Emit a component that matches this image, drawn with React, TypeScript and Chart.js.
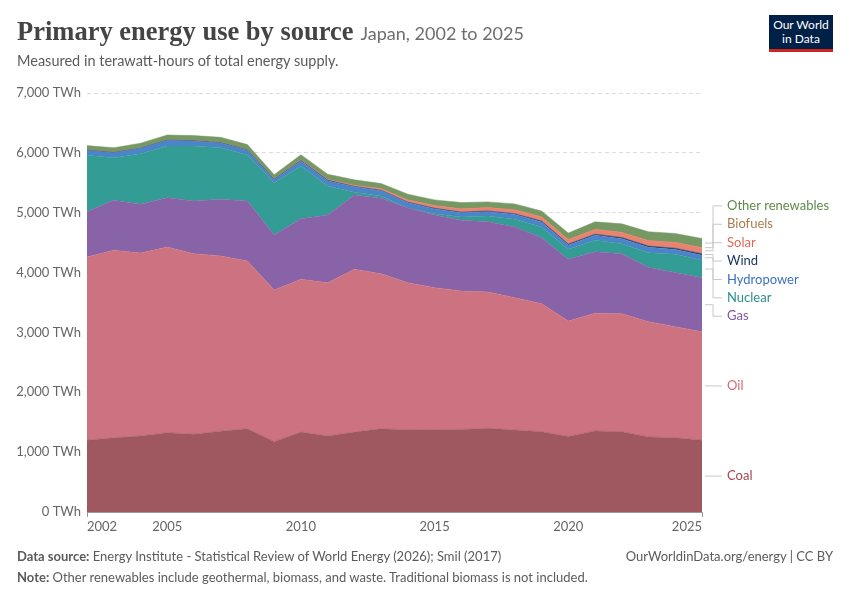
import { useEffect, useRef } from "react";
import { Chart, registerables } from "chart.js";

Chart.register(...registerables);

const years = [
  2002, 2003, 2004, 2005, 2006, 2007, 2008, 2009, 2010, 2011, 2012, 2013,
  2014, 2015, 2016, 2017, 2018, 2019, 2020, 2021, 2022, 2023, 2024, 2025,
];

// TWh
const coal = [1200, 1240, 1270, 1325, 1300, 1350, 1390, 1175, 1335, 1270, 1335, 1390, 1370, 1375, 1380, 1398, 1370, 1342, 1260, 1353, 1342, 1253, 1241, 1200];
const oil = [3060, 3132, 3057, 3102, 3016, 2927, 2803, 2534, 2552, 2561, 2719, 2591, 2461, 2373, 2312, 2277, 2210, 2138, 1931, 1966, 1972, 1927, 1855, 1812];
const gas = [757, 835, 813, 824, 879, 946, 1002, 920, 1013, 1131, 1242, 1260, 1249, 1214, 1181, 1175, 1181, 1102, 1030, 1030, 1001, 905, 904, 902];
const nuclear = [941, 712, 846, 863, 919, 863, 769, 872, 880, 484, 45, 40, 0, 22, 55, 95, 129, 179, 168, 190, 167, 247, 305, 291];
const hydropower = [84, 84, 90, 95, 84, 79, 78, 50, 85, 90, 90, 85, 85, 80, 70, 72, 80, 85, 70, 85, 85, 90, 80, 85];
const wind = [1, 2, 2, 4, 4, 5, 6, 7, 8, 9, 9, 10, 11, 11, 12, 13, 14, 15, 17, 18, 19, 20, 22, 24];
const solar = [2, 2, 3, 3, 3, 3, 4, 5, 7, 10, 16, 26, 36, 44, 52, 56, 62, 68, 72, 78, 84, 90, 95, 100];
const biofuels = [0, 0, 0, 0, 1, 1, 1, 2, 2, 2, 3, 3, 3, 3, 3, 3, 4, 4, 4, 4, 4, 4, 4, 4];
const otherRenewables = [76, 78, 80, 82, 82, 85, 85, 70, 87, 87, 90, 82, 95, 92, 105, 92, 97, 96, 108, 123, 140, 146, 147, 152];

const seriesNames = ["Coal", "Oil", "Gas", "Nuclear", "Hydropower", "Wind", "Solar", "Biofuels", "Other renewables"];
const seriesValues = [coal, oil, gas, nuclear, hydropower, wind, solar, biofuels, otherRenewables];
const fillColors = ["#9f585f", "#cd7281", "#8963a7", "#339c94", "#4b84c8", "#263c6b", "#e88370", "#b08150", "#769964"];
const labelColors = ["#a3464f", "#d1687a", "#7e56a8", "#2b9189", "#3c71c0", "#1e3766", "#e0695a", "#a87e4e", "#5e8a48"];

const xTickYears = [2002, 2005, 2010, 2015, 2020, 2025];
const yTickValues = [0, 1000, 2000, 3000, 4000, 5000, 6000, 7000];

const FONT = "Lato, 'Noto Sans', sans-serif";

const xLabels = {
  id: "xLabels",
  afterDraw(chart: any) {
    const { ctx, chartArea, scales } = chart;
    ctx.save();
    ctx.font = `13px ${FONT}`;
    ctx.fillStyle = "#666";
    ctx.textBaseline = "middle";
    xTickYears.forEach((yr, i) => {
      const x = scales.x.getPixelForValue(yr);
      ctx.textAlign = i === 0 ? "left" : i === xTickYears.length - 1 ? "right" : "center";
      ctx.fillText(String(yr), x, chartArea.bottom + 15);
    });
    // little end ticks
    ctx.strokeStyle = "#999";
    ctx.lineWidth = 1;
    [years[0], years[years.length - 1]].forEach((yr) => {
      const x = Math.round(scales.x.getPixelForValue(yr)) + 0.5;
      ctx.beginPath();
      ctx.moveTo(x, chartArea.bottom);
      ctx.lineTo(x, chartArea.bottom + 5);
      ctx.stroke();
    });
    ctx.restore();
  },
};

const sideLabels = {
  id: "sideLabels",
  afterDatasetsDraw(chart: any) {
    const { ctx, chartArea } = chart;
    const last = years.length - 1;
    const items = chart.data.datasets.map((_: any, i: number) => {
      const top = chart.getDatasetMeta(i).data[last].y;
      const bottom = i === 0 ? chart.scales.y.getPixelForValue(0) : chart.getDatasetMeta(i - 1).data[last].y;
      return { i, mid: (top + bottom) / 2, y: (top + bottom) / 2 };
    });
    const gap = 18.4;
    const sorted = [...items].sort((a, b) => a.mid - b.mid);
    let clusters = sorted.map((it) => ({ items: [it], center: it.mid }));
    let merged = true;
    while (merged) {
      merged = false;
      for (let k = 0; k < clusters.length - 1; k++) {
        const a = clusters[k];
        const b = clusters[k + 1];
        const aEnd = a.center + ((a.items.length - 1) * gap) / 2;
        const bStart = b.center - ((b.items.length - 1) * gap) / 2;
        if (bStart - aEnd < gap) {
          const its = [...a.items, ...b.items];
          const center = its.reduce((s, it) => s + it.mid, 0) / its.length;
          clusters.splice(k, 2, { items: its, center });
          merged = true;
          break;
        }
      }
    }
    clusters.forEach((c) =>
      c.items.forEach((it, j) => {
        it.y = c.center + (j - (c.items.length - 1) / 2) * gap;
      })
    );

    const x0 = chartArea.right + 3;
    const xe = chartArea.right + 11;
    const x1 = chartArea.right + 20;
    ctx.save();
    ctx.strokeStyle = "#c8c8c8";
    ctx.lineWidth = 1;
    items.forEach((it: any) => {
      ctx.beginPath();
      if (Math.abs(it.y - it.mid) < 1) {
        ctx.moveTo(x0, it.y);
        ctx.lineTo(x1, it.y);
      } else {
        ctx.moveTo(x0, it.mid);
        ctx.lineTo(xe, it.mid);
        ctx.lineTo(xe, it.y);
        ctx.lineTo(x1, it.y);
      }
      ctx.stroke();
    });
    ctx.font = `13px ${FONT}`;
    ctx.textAlign = "left";
    ctx.textBaseline = "middle";
    items.forEach((it: any) => {
      ctx.fillStyle = labelColors[it.i];
      ctx.fillText(seriesNames[it.i], chartArea.right + 25, it.y);
    });
    ctx.restore();
  },
};

function EnergyChart() {
  const canvasRef = useRef<HTMLCanvasElement>(null);

  useEffect(() => {
    if (!canvasRef.current) return;
    const chart = new Chart(canvasRef.current, {
      type: "line",
      data: {
        datasets: seriesNames.map((name, i) => ({
          label: name,
          data: years.map((yr, k) => ({ x: yr, y: seriesValues[i][k] })),
          backgroundColor: fillColors[i],
          borderColor: fillColors[i],
          borderWidth: 0.5,
          pointRadius: 0,
          tension: 0,
          fill: i === 0 ? "origin" : "-1",
        })),
      },
      options: {
        responsive: false,
        animation: false,
        layout: { padding: { left: 0, right: 148, top: 93, bottom: 58 } },
        plugins: {
          legend: { display: false },
          tooltip: { enabled: false },
        },
        scales: {
          x: {
            type: "linear",
            min: 2002,
            max: 2025,
            grid: { display: false },
            border: { display: true, color: "#999" },
            ticks: { display: false },
            afterFit: (s: any) => {
              s.height = 30;
            },
          },
          y: {
            stacked: true,
            min: 0,
            max: 7000,
            afterBuildTicks: (s: any) => {
              s.ticks = yTickValues.map((v) => ({ value: v }));
            },
            afterFit: (s: any) => {
              s.width = 87;
            },
            border: { display: false, dash: [4, 3] },
            grid: {
              color: (c: any) => (c.tick && c.tick.value === 0 ? "rgba(0,0,0,0)" : "#dcdcdc"),
              drawTicks: false,
            },
            ticks: {
              padding: 6,
              color: "#666",
              font: { family: FONT, size: 13 },
              callback: (v: any) => `${Number(v).toLocaleString("en-US")} TWh`,
            },
          },
        },
      },
      plugins: [xLabels, sideLabels],
    });
    return () => chart.destroy();
  }, []);

  return <canvas ref={canvasRef} width={850} height={600} style={{ position: "absolute", left: 0, top: 0 }} />;
}

export default function App() {
  return (
    <div style={{ position: "absolute", left: 0, top: 0, width: 850, height: 600, background: "#fff", fontFamily: FONT }}>
      <EnergyChart />
      <div style={{ position: "absolute", left: 17, top: 15, whiteSpace: "nowrap", lineHeight: "32px" }}>
        <span style={{ fontFamily: "'Liberation Serif', serif", fontWeight: 700, fontSize: 26.5, color: "#444" }}>
          Primary energy use by source
        </span>
        <span style={{ fontSize: 18, color: "#6e6e6e", marginLeft: 7 }}>Japan, 2002 to 2025</span>
      </div>
      <div style={{ position: "absolute", left: 17, top: 51, fontSize: 14.5, color: "#5b5b5b", lineHeight: "20px" }}>
        Measured in terawatt-hours of total energy supply.
      </div>
      <div
        style={{
          position: "absolute",
          left: 769,
          top: 15,
          width: 64,
          height: 37,
          background: "#002147",
          borderBottom: "3px solid #ce261e",
          boxSizing: "border-box",
          color: "#fff",
          fontSize: 12,
          lineHeight: "14px",
          textAlign: "center",
          paddingTop: 3,
        }}
      >
        Our World
        <br />
        in Data
      </div>
      <div style={{ position: "absolute", left: 17, top: 546, fontSize: 13, color: "#5b5b5b", lineHeight: "20px", whiteSpace: "nowrap" }}>
        <b>Data source:</b> Energy Institute - Statistical Review of World Energy (2026); Smil (2017)
      </div>
      <div style={{ position: "absolute", right: 17, top: 546, fontSize: 13, color: "#5b5b5b", lineHeight: "20px", whiteSpace: "nowrap" }}>
        OurWorldinData.org/energy | CC BY
      </div>
      <div style={{ position: "absolute", left: 17, top: 567, fontSize: 13, color: "#5b5b5b", lineHeight: "20px", whiteSpace: "nowrap" }}>
        <b>Note:</b> Other renewables include geothermal, biomass, and waste. Traditional biomass is not included.
      </div>
    </div>
  );
}
